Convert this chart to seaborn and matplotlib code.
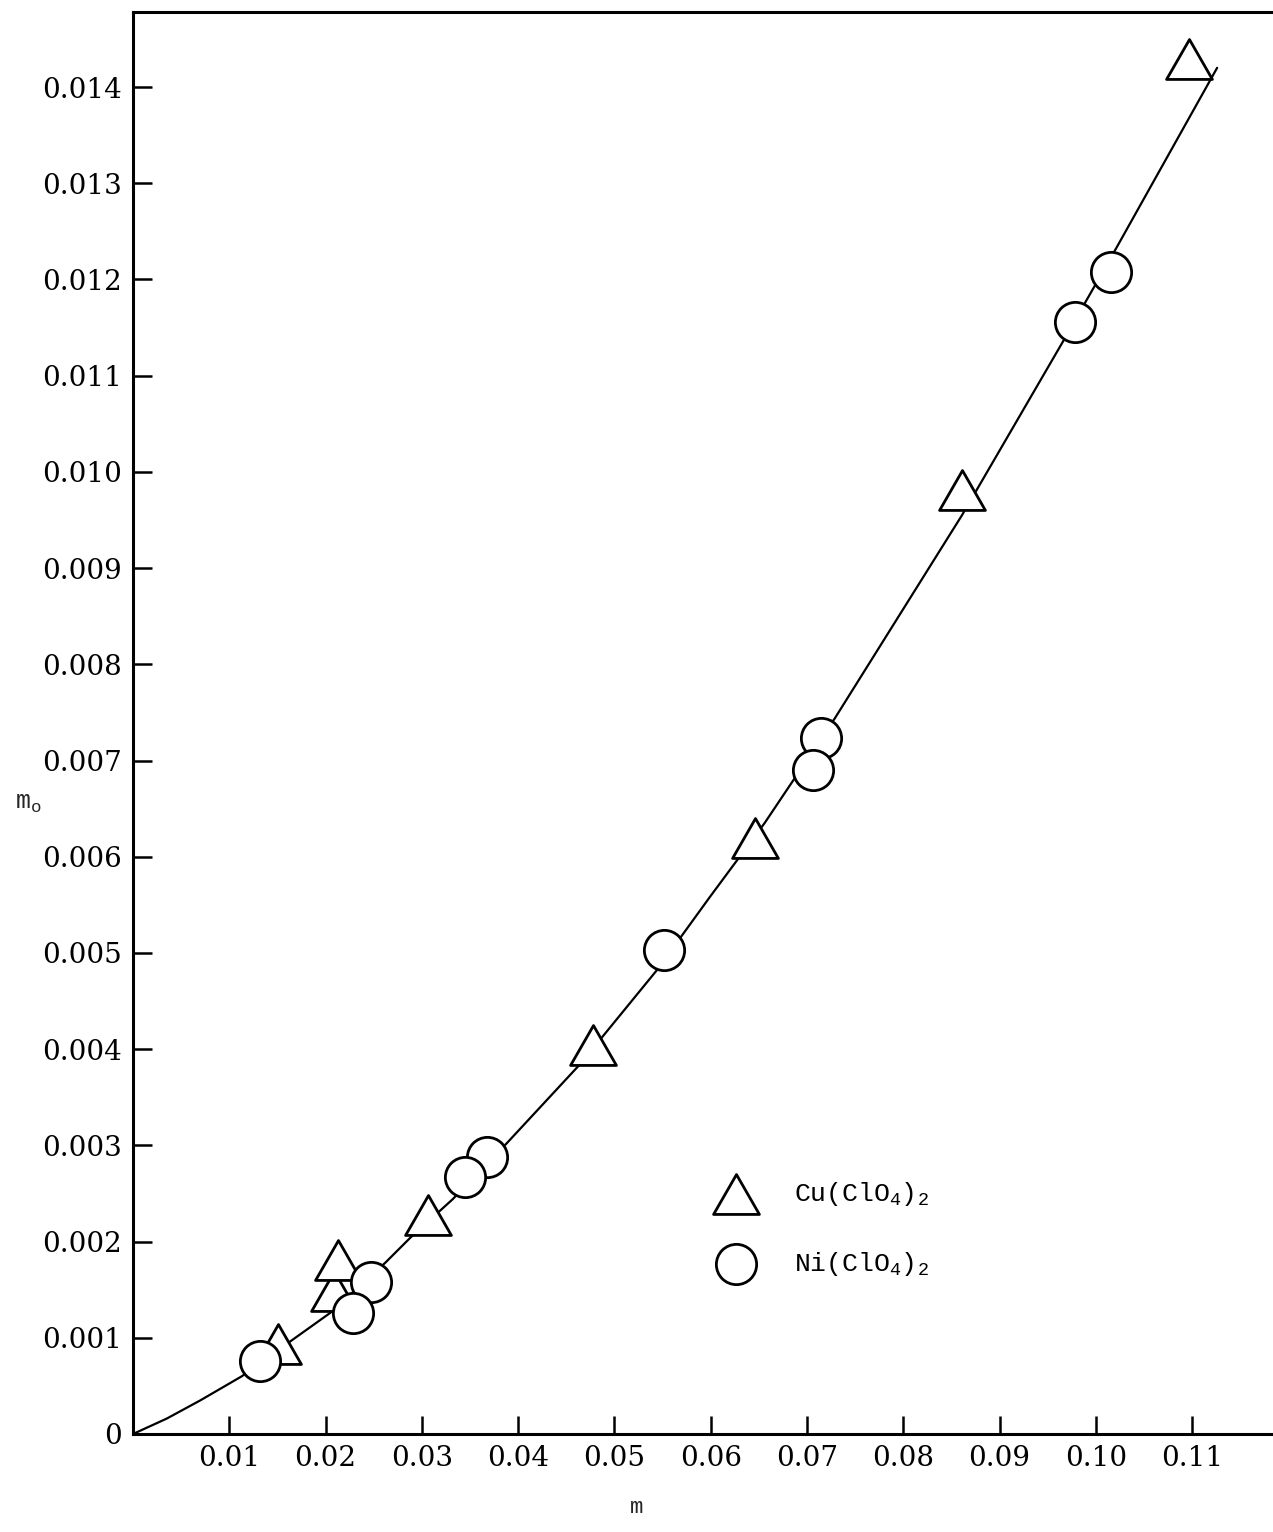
import numpy as np
import matplotlib
matplotlib.use("Agg")
import matplotlib.pyplot as plt
import seaborn as sns
from matplotlib.path import Path

# Cu(ClO4)2 points
cu_m = [0.0151, 0.0209, 0.0213, 0.0306, 0.0478, 0.0646, 0.0861, 0.1097]
cu_mo = [0.00094, 0.00149, 0.00181, 0.00228, 0.00404, 0.00619, 0.00981, 0.01429]

# Ni(ClO4)2 points (high to low, so the lower circles end up on top)
ni_m = [0.1016, 0.0978, 0.0715, 0.0706, 0.0552, 0.0368, 0.0345, 0.0247, 0.0229, 0.0132]
ni_mo = [0.01208, 0.01156, 0.00723, 0.00690, 0.00503, 0.00288, 0.00267, 0.00158, 0.00126, 0.00076]

# hand drawn curve through the points
curve_m = [0, 0.0035, 0.0070, 0.0113, 0.0163, 0.0205, 0.0262, 0.0288, 0.0332, 0.0388,
           0.0464, 0.0544, 0.0599, 0.0656, 0.0729, 0.0861, 0.0965, 0.1022, 0.1126]
curve_mo = [0, 0.00016, 0.00035, 0.00060, 0.00096, 0.00126, 0.00178, 0.00204, 0.00244, 0.00302,
            0.00384, 0.00482, 0.00558, 0.00635, 0.00744, 0.00955, 0.01134, 0.01234, 0.0142]

x_ticks = [0.01, 0.02, 0.03, 0.04, 0.05, 0.06, 0.07, 0.08, 0.09, 0.10, 0.11]
x_labels = ["0.01", "0.02", "0.03", "0.04", "0.05", "0.06", "0.07", "0.08", "0.09", "0.10", "0.11"]
y_ticks = [0, 0.001, 0.002, 0.003, 0.004, 0.005, 0.006, 0.007, 0.008, 0.009, 0.010,
           0.011, 0.012, 0.013, 0.014]
y_labels = ["0", "0.001", "0.002", "0.003", "0.004", "0.005", "0.006", "0.007", "0.008",
            "0.009", "0.010", "0.011", "0.012", "0.013", "0.014"]

sns.set_theme(style="white", rc={"axes.edgecolor": "black", "xtick.color": "black",
                                 "ytick.color": "black", "text.color": "black"})
plt.rcParams["font.family"] = ["DejaVu Serif"]
plt.rcParams["mathtext.fontset"] = "custom"
plt.rcParams["mathtext.rm"] = "Liberation Mono"
plt.rcParams["mathtext.default"] = "rm"

W, H = 1273, 1532
fig = plt.figure(figsize=(W / 100, H / 100), dpi=100)
ax = fig.add_axes([133 / W, 1 - 1434 / H, 1140 / W, 1422 / H])

sns.lineplot(x=curve_m, y=curve_mo, sort=False, color="black", linewidth=1.6,
             ax=ax, zorder=1)

tri = Path([(0, 0.87), (-1, -0.87), (1, -0.87), (0, 0.87)],
           [Path.MOVETO, Path.LINETO, Path.LINETO, Path.CLOSEPOLY])
sns.scatterplot(x=cu_m, y=cu_mo, marker=tri, s=33 ** 2, color="white",
                edgecolor="black", linewidth=2.0, ax=ax, zorder=3,
                label="Cu(ClO$_4$)$_2$")
sns.scatterplot(x=ni_m, y=ni_mo, marker="o", s=29 ** 2, color="white",
                edgecolor="black", linewidth=2.0, ax=ax, zorder=4,
                label="Ni(ClO$_4$)$_2$")

ax.set_xlim(0, 0.1184)
ax.set_ylim(0, 0.01478)
ax.set_xticks(x_ticks)
ax.set_xticklabels(x_labels)
ax.set_yticks(y_ticks)
ax.set_yticklabels(y_labels)
ax.tick_params(bottom=True, left=True, top=False, right=False, direction="in",
               length=14, width=1.8, labelsize=20, pad=8)
ax.tick_params(axis="x", length=13)

for side in ["left", "bottom", "top"]:
    ax.spines[side].set_linewidth(2.2)
    ax.spines[side].set_color("black")
ax.spines["right"].set_visible(False)

ax.set_xlabel("m", fontsize=16, family="Liberation Mono")
ax.xaxis.set_label_coords(0.442, -0.044)
ax.set_ylabel(r"m$_\mathrm{o}$", fontsize=18, family="Liberation Mono", rotation=0)
ax.yaxis.set_label_coords(-0.092, 0.435)

ax.legend(loc="center left", bbox_to_anchor=(0.494, 0.144), frameon=False,
          prop={"family": "Liberation Mono", "size": 19}, borderpad=0,
          handlelength=2.0, handletextpad=1.2, labelspacing=1.6, scatterpoints=1)

fig.savefig("out.png", dpi=100, facecolor="white")
